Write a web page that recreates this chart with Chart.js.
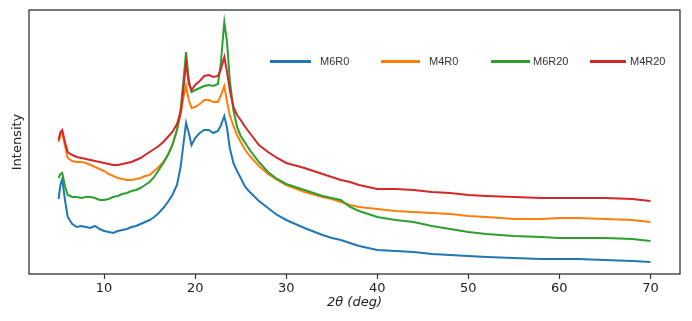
<!DOCTYPE html>
<html>
<head>
<meta charset="utf-8">
<script src="https://cdn.jsdelivr.net/npm/chart.js@4.4.1/dist/chart.umd.min.js"></script>
<style>
  body { margin: 0; background: #fff; }
</style>
</head>
<body>
<canvas id="xrdChart" width="692" height="321"></canvas>
<script>
// 2-theta positions (deg) and intensities (arbitrary units)
const twoTheta = [5, 5.2, 5.4, 5.7, 6, 6.5, 7, 7.5, 8, 8.5, 9, 9.5, 10, 10.5, 11, 11.5, 12, 12.5, 13, 13.5,
    14, 14.5, 15, 15.5, 16, 16.5, 17, 17.5, 18, 18.4, 18.7, 19, 19.3, 19.6, 20, 20.5, 21, 21.5, 22, 22.5,
    22.8, 23.2, 23.5, 23.8, 24.2, 24.6, 25, 25.5, 26, 27, 28, 29, 30, 32, 34, 35, 36, 37, 38, 40,
    42, 44, 46, 48, 50, 52, 55, 58, 60, 62, 65, 68, 70];

const m6r0 = [75, 89, 95, 74, 57, 50, 47, 48, 47, 46, 48, 45, 43, 42, 41, 43, 44, 45, 47, 48,
    50, 52, 54, 57, 61, 66, 72, 79, 89, 107, 129, 151, 141, 129, 136, 141, 144, 144, 141, 143,
    148, 158, 146, 126, 111, 103, 96, 87, 82, 73, 66, 59, 54, 46, 39, 36, 34, 31, 28, 24,
    23, 22, 20, 19, 18, 17, 16, 15, 15, 15, 14, 13, 12];

const m4r0 = [132, 139, 142, 128, 116, 113, 112, 112, 111, 109, 107, 105, 103, 100, 98, 96, 95, 94, 94, 95,
    96, 98, 99, 103, 107, 112, 119, 129, 144, 159, 176, 188, 174, 166, 167, 170, 174, 174, 172, 172,
    178, 188, 172, 159, 148, 139, 132, 124, 118, 108, 100, 94, 89, 82, 77, 75, 72, 69, 67, 65,
    63, 62, 61, 60, 58, 57, 55, 55, 56, 56, 55, 54, 52];

const m6r20 = [96, 100, 101, 88, 79, 77, 77, 76, 77, 77, 76, 74, 74, 75, 77, 78, 80, 81, 83, 84,
    86, 89, 92, 97, 104, 111, 119, 129, 144, 164, 192, 222, 194, 182, 184, 186, 188, 189, 188, 190,
    209, 252, 232, 194, 164, 147, 138, 131, 124, 112, 102, 95, 90, 84, 78, 76, 74, 67, 63, 57,
    54, 52, 48, 45, 42, 40, 38, 37, 36, 36, 36, 35, 33];

const m4r20 = [134, 142, 144, 132, 122, 119, 117, 116, 115, 114, 113, 112, 111, 110, 109, 109, 110, 111, 112, 114,
    116, 119, 122, 125, 128, 132, 137, 142, 150, 162, 184, 212, 190, 184, 189, 193, 198, 199, 197, 198,
    204, 217, 202, 184, 167, 159, 154, 147, 141, 129, 122, 116, 111, 106, 100, 97, 94, 92, 89, 85,
    85, 84, 82, 81, 79, 78, 77, 76, 76, 76, 76, 75, 73];

const seriesNames = ['M6R0', 'M4R0', 'M6R20', 'M4R20'];
const seriesColors = ['#1f77b4', '#ff7f0e', '#2ca02c', '#d62728'];
const xTicks = [10, 20, 30, 40, 50, 60, 70];

function toPoints(values) {
    return twoTheta.map(function (x, i) { return { x: x, y: values[i] }; });
}

// legend placement inside the plot: line start, line end, text x (canvas px)
const legendSlots = [[270, 311, 320], [381, 420, 429], [491, 530, 533], [590, 626, 630]];

const framePlugin = {
    id: 'frameAndLegend',
    afterDatasetsDraw: function (chart) {
        const ctx = chart.ctx;
        const a = chart.chartArea;
        ctx.save();
        ctx.strokeStyle = '#333';
        ctx.lineWidth = 1.3;
        ctx.strokeRect(a.left, a.top, a.right - a.left, a.bottom - a.top);

        // legend
        const y = 61.5;
        ctx.font = '11px "Liberation Sans", Arial, sans-serif';
        ctx.textBaseline = 'middle';
        ctx.fillStyle = '#333';
        chart.data.datasets.forEach(function (ds, i) {
            const slot = legendSlots[i];
            ctx.strokeStyle = ds.borderColor;
            ctx.lineWidth = 3;
            ctx.beginPath();
            ctx.moveTo(slot[0], y);
            ctx.lineTo(slot[1], y);
            ctx.stroke();
            ctx.fillText(ds.label, slot[2], y);
        });
        ctx.restore();
    }
};

const ctx = document.getElementById('xrdChart').getContext('2d');
const xrdChart = new Chart(ctx, {
    type: 'line',
    data: {
        datasets: [
            { label: seriesNames[0], data: toPoints(m6r0), borderColor: seriesColors[0], order: 3 },
            { label: seriesNames[1], data: toPoints(m4r0), borderColor: seriesColors[1], order: 2 },
            { label: seriesNames[2], data: toPoints(m6r20), borderColor: seriesColors[2], order: 1 },
            { label: seriesNames[3], data: toPoints(m4r20), borderColor: seriesColors[3], order: 0 }
        ]
    },
    options: {
        responsive: false,
        animation: false,
        devicePixelRatio: 1,
        layout: {
            padding: { top: 10, right: 12, bottom: 7, left: 0 }
        },
        elements: {
            point: { radius: 0 },
            line: { borderWidth: 2, tension: 0, fill: false }
        },
        plugins: {
            legend: { display: false },
            tooltip: { enabled: false }
        },
        scales: {
            x: {
                type: 'linear',
                min: 1.75,
                max: 73.25,
                afterBuildTicks: function (scale) {
                    scale.ticks = xTicks.map(function (v) { return { value: v }; });
                },
                afterFit: function (scale) {
                    scale.height = 40;
                },
                grid: {
                    drawOnChartArea: false,
                    drawTicks: true,
                    tickLength: 5,
                    color: '#333',
                    tickWidth: 1.2
                },
                border: { display: false },
                ticks: {
                    padding: 2,
                    color: '#222',
                    font: { family: '"DejaVu Sans", sans-serif', size: 13 }
                },
                title: {
                    display: true,
                    text: '2θ (deg)',
                    color: '#222',
                    padding: { top: 0, bottom: 4 },
                    font: { family: '"DejaVu Sans", sans-serif', size: 13, style: 'italic' }
                }
            },
            y: {
                type: 'linear',
                min: 0,
                max: 264,
                afterFit: function (scale) {
                    scale.width = 29;
                },
                grid: { display: false },
                border: { display: false },
                ticks: { display: false },
                title: {
                    display: true,
                    text: 'Intensity',
                    color: '#222',
                    padding: { top: 10, bottom: 0 },
                    font: { family: '"DejaVu Sans", sans-serif', size: 13 }
                }
            }
        }
    },
    plugins: [framePlugin]
});
</script>
</body>
</html>
